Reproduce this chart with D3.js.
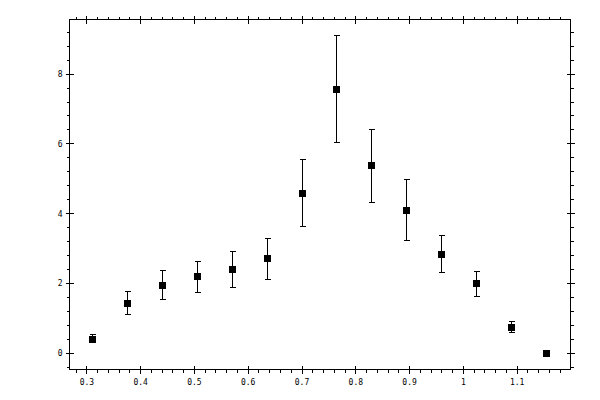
<!DOCTYPE html>
<html>
<head>
<meta charset="utf-8">
<script src="https://cdn.jsdelivr.net/npm/d3@7"></script>
<style>
  body { margin: 0; background: #fff; }
  text { font-family: "DejaVu Sans Mono", monospace; font-size: 8px; fill: #000; }
</style>
</head>
<body>
<script>
// data
var xValues  = [0.310, 0.375, 0.440, 0.505, 0.570, 0.635, 0.700, 0.765, 0.830, 0.895, 0.960, 1.025, 1.090, 1.155];
var yValues  = [0.40, 1.43, 1.95, 2.21, 2.41, 2.72, 4.58, 7.56, 5.39, 4.10, 2.84, 2.01, 0.74, 0.00];
var errLow   = [0.11, 0.31, 0.40, 0.46, 0.52, 0.60, 0.94, 1.52, 1.06, 0.86, 0.54, 0.38, 0.14, 0.03];
var errHigh  = [0.14, 0.35, 0.43, 0.43, 0.51, 0.57, 0.98, 1.55, 1.03, 0.87, 0.54, 0.34, 0.18, 0.03];
var xTickVals = [0.3, 0.4, 0.5, 0.6, 0.7, 0.8, 0.9, 1.0, 1.1];
var xTickLabels = ["0.3", "0.4", "0.5", "0.6", "0.7", "0.8", "0.9", "1", "1.1"];
var yTickVals = [0, 2, 4, 6, 8];
var yTickLabels = ["0", "2", "4", "6", "8"];

var width = 600, height = 400;
var plotL = 69.5, plotR = 570.5, plotT = 19.5, plotB = 369.5;

var svg = d3.select("body").append("svg")
    .attr("width", width)
    .attr("height", height)
    .attr("shape-rendering", "crispEdges");

var x = d3.scaleLinear().domain([0.2677, 1.1992]).range([plotL, plotR]);
var y = d3.scaleLinear().domain([-0.47, 9.567]).range([plotB, plotT]);

var data = [];
for (var i = 0; i < xValues.length; i++) {
    data.push({x: xValues[i], y: yValues[i], lo: yValues[i] - errLow[i], hi: yValues[i] + errHigh[i]});
}

// minor tick positions
var xMinor = [], yMinor = [];
for (var k = 14; k <= 59; k++) {
    var v = k * 0.02;
    if (v > 0.2677 && v < 1.1992 && k % 5 != 0) xMinor.push(v);
}
for (var k = -1; k <= 23; k++) {
    var v = k * 0.4;
    if (v > -0.47 && v < 9.567 && k % 5 != 0) yMinor.push(v);
}

function px(v) { return Math.round(v - 0.5) + 0.5; }

var g = svg.append("g").attr("stroke", "#000").attr("stroke-width", 1);

// frame
g.append("rect")
    .attr("x", plotL).attr("y", plotT)
    .attr("width", plotR - plotL).attr("height", plotB - plotT)
    .attr("fill", "none");

// x ticks, bottom and top
xMinor.forEach(function(v) {
    g.append("line").attr("x1", px(x(v))).attr("x2", px(x(v))).attr("y1", plotB).attr("y2", plotB + 3);
    g.append("line").attr("x1", px(x(v))).attr("x2", px(x(v))).attr("y1", plotT).attr("y2", plotT - 3);
});
xTickVals.forEach(function(v) {
    g.append("line").attr("x1", px(x(v))).attr("x2", px(x(v))).attr("y1", plotB - 4).attr("y2", plotB + 4);
    g.append("line").attr("x1", px(x(v))).attr("x2", px(x(v))).attr("y1", plotT - 4).attr("y2", plotT + 4);
});

// y ticks, left and right
yMinor.forEach(function(v) {
    g.append("line").attr("y1", px(y(v))).attr("y2", px(y(v))).attr("x1", plotL).attr("x2", plotL - 3);
    g.append("line").attr("y1", px(y(v))).attr("y2", px(y(v))).attr("x1", plotR).attr("x2", plotR + 3);
});
yTickVals.forEach(function(v) {
    g.append("line").attr("y1", px(y(v))).attr("y2", px(y(v))).attr("x1", plotL - 4).attr("x2", plotL + 4);
    g.append("line").attr("y1", px(y(v))).attr("y2", px(y(v))).attr("x1", plotR - 4).attr("x2", plotR + 4);
});

// tick labels
svg.selectAll(".xl").data(xTickVals).enter().append("text")
    .attr("class", "xl")
    .attr("x", function(d) { return x(d); })
    .attr("y", plotB + 15)
    .attr("text-anchor", "middle")
    .text(function(d, i) { return xTickLabels[i]; });

svg.selectAll(".yl").data(yTickVals).enter().append("text")
    .attr("class", "yl")
    .attr("x", plotL - 7)
    .attr("y", function(d) { return y(d) + 3; })
    .attr("text-anchor", "end")
    .text(function(d, i) { return yTickLabels[i]; });

// error bars
var eb = svg.append("g").attr("stroke", "#000").attr("stroke-width", 1);
eb.selectAll(".ev").data(data).enter().append("line")
    .attr("x1", function(d) { return px(x(d.x)); })
    .attr("x2", function(d) { return px(x(d.x)); })
    .attr("y1", function(d) { return px(y(d.lo)); })
    .attr("y2", function(d) { return px(y(d.hi)); });
eb.selectAll(".et").data(data).enter().append("line")
    .attr("x1", function(d) { return px(x(d.x)) - 2.5; })
    .attr("x2", function(d) { return px(x(d.x)) + 3; })
    .attr("y1", function(d) { return px(y(d.hi)); })
    .attr("y2", function(d) { return px(y(d.hi)); });
eb.selectAll(".eb").data(data).enter().append("line")
    .attr("x1", function(d) { return px(x(d.x)) - 2.5; })
    .attr("x2", function(d) { return px(x(d.x)) + 3; })
    .attr("y1", function(d) { return px(y(d.lo)); })
    .attr("y2", function(d) { return px(y(d.lo)); });

// square markers
svg.selectAll(".pt").data(data).enter().append("rect")
    .attr("class", "pt")
    .attr("x", function(d) { return px(x(d.x)) - 3.5; })
    .attr("y", function(d) { return px(y(d.y)) - 3.5; })
    .attr("width", 7)
    .attr("height", 7)
    .attr("fill", "#000");
</script>
</body>
</html>
